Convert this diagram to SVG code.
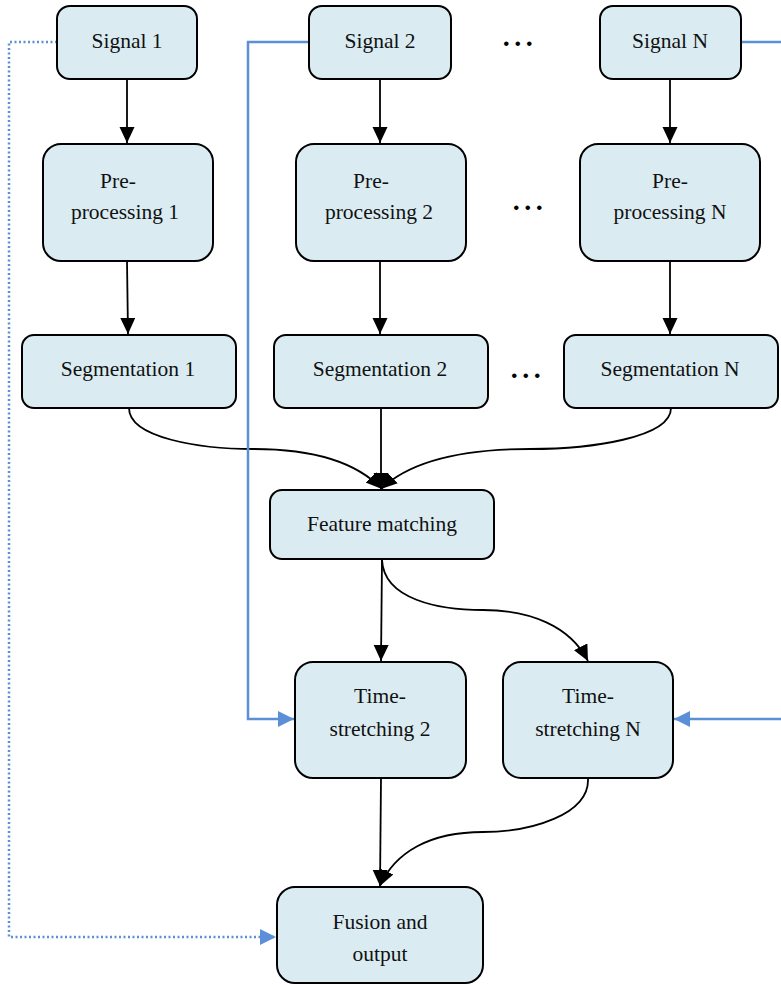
<svg xmlns="http://www.w3.org/2000/svg" width="781" height="985" viewBox="0 0 781 985">
  <style>
    .box { fill: #daecf2; stroke: #000; stroke-width: 2; }
    .lbl { font-family: "Liberation Serif", "Times New Roman", serif; font-size: 21.5px; fill: #111; text-anchor: middle; }
    .dots { font-family: "Liberation Serif", "Times New Roman", serif; font-size: 28px; font-weight: bold; fill: #000; text-anchor: middle; letter-spacing: 4.5px; }
    .edge { fill: none; stroke: #000; stroke-width: 1.8; }
    .blue { fill: none; stroke: #5b8fd8; stroke-width: 2.5; }
    .dotted { fill: none; stroke: #5b8fd8; stroke-width: 2.5; stroke-dasharray: 2 2.5; }
  </style>
  <defs>
    <marker id="arrow" markerUnits="userSpaceOnUse" markerWidth="17" markerHeight="16" refX="16" refY="7.5" orient="auto" viewBox="0 0 17 16">
      <path d="M0,0 L16,7.5 L0,15 z" fill="#000"/>
    </marker>
    <marker id="arrowBlue" markerUnits="userSpaceOnUse" markerWidth="17" markerHeight="17" refX="16" refY="8" orient="auto" viewBox="0 0 17 17">
      <path d="M0,0 L16,8 L0,16 z" fill="#5b8fd8"/>
    </marker>
  </defs>

  <!-- connectors -->
  <g id="connectors">
    <path class="edge" d="M127,79 L127,143" marker-end="url(#arrow)"/>
    <path class="edge" d="M380,79 L380,143" marker-end="url(#arrow)"/>
    <path class="edge" d="M670,79 L670,143" marker-end="url(#arrow)"/>
    <path class="edge" d="M127,261 L128,334" marker-end="url(#arrow)"/>
    <path class="edge" d="M380,261 L380,334" marker-end="url(#arrow)"/>
    <path class="edge" d="M670,261 L670,334" marker-end="url(#arrow)"/>
    <!-- segmentation outputs into feature matching -->
    <path class="edge" d="M129,408 C129,438 200,449 254,449 C320,449 360,466 382,489" marker-end="url(#arrow)"/>
    <path class="edge" d="M381,408 L381,489" marker-end="url(#arrow)"/>
    <path class="edge" d="M671,408 C671,438 590,449 530,449 C450,449 405,466 381,489" marker-end="url(#arrow)"/>
    <!-- feature matching to time-stretching -->
    <path class="edge" d="M382,560 L381,661" marker-end="url(#arrow)"/>
    <path class="edge" d="M382,560 C384,600 440,610 483,610 C530,610 570,626 588,661" marker-end="url(#arrow)"/>
    <!-- time-stretching to fusion -->
    <path class="edge" d="M381,778 L380,886" marker-end="url(#arrow)"/>
    <path class="edge" d="M588,778 C590,815 530,832 483,832 C430,832 395,852 380,886" marker-end="url(#arrow)"/>
    <!-- reference signal routes -->
    <path class="blue" d="M309,42 L248,42 L248,719 L294,719" marker-end="url(#arrowBlue)"/>
    <path class="blue" d="M741,42 L781,42"/>
    <path class="blue" d="M781,719 L674,719" marker-end="url(#arrowBlue)"/>
    <path class="dotted" d="M57,42 L9,42 L9,937 L276,937" marker-end="url(#arrowBlue)"/>
  </g>

  <!-- nodes -->
  <g id="signal1"><rect class="box" x="57" y="6" width="140" height="73" rx="13"/><text class="lbl" x="127" y="48">Signal 1</text></g>
  <g id="signal2"><rect class="box" x="309" y="6" width="142" height="73" rx="13"/><text class="lbl" x="380" y="48">Signal 2</text></g>
  <g id="signalN"><rect class="box" x="600" y="6" width="141" height="73" rx="13"/><text class="lbl" x="670" y="48">Signal N</text></g>

  <g id="pre1"><rect class="box" x="43" y="144" width="170" height="117" rx="18"/><text class="lbl" x="118" y="188">Pre-</text><text class="lbl" x="125" y="219">processing 1</text></g>
  <g id="pre2"><rect class="box" x="296" y="144" width="170" height="117" rx="18"/><text class="lbl" x="371" y="188">Pre-</text><text class="lbl" x="379" y="219">processing 2</text></g>
  <g id="preN"><rect class="box" x="580" y="144" width="180" height="117" rx="18"/><text class="lbl" x="670" y="188">Pre-</text><text class="lbl" x="670" y="219">processing N</text></g>

  <g id="seg1"><rect class="box" x="22" y="335" width="214" height="73" rx="12"/><text class="lbl" x="128" y="376">Segmentation 1</text></g>
  <g id="seg2"><rect class="box" x="274" y="335" width="214" height="73" rx="12"/><text class="lbl" x="380" y="376">Segmentation 2</text></g>
  <g id="segN"><rect class="box" x="564" y="335" width="214" height="73" rx="12"/><text class="lbl" x="670" y="376">Segmentation N</text></g>

  <g id="featureMatching"><rect class="box" x="270" y="490" width="224" height="69" rx="12"/><text class="lbl" x="382" y="531">Feature matching</text></g>

  <g id="ts2"><rect class="box" x="295" y="662" width="171" height="116" rx="18"/><text class="lbl" x="380" y="703">Time-</text><text class="lbl" x="380" y="736">stretching 2</text></g>
  <g id="tsN"><rect class="box" x="503" y="662" width="170" height="116" rx="18"/><text class="lbl" x="588" y="703">Time-</text><text class="lbl" x="588" y="736">stretching N</text></g>

  <g id="fusion"><rect class="box" x="277" y="887" width="206" height="96" rx="18"/><text class="lbl" x="380" y="929">Fusion and</text><text class="lbl" x="380" y="961">output</text></g>

  <!-- ellipses between columns -->
  <g id="ellipses">
    <text class="dots" x="520" y="46">...</text>
    <text class="dots" x="530" y="210">...</text>
    <text class="dots" x="528" y="378">...</text>
  </g>
</svg>
